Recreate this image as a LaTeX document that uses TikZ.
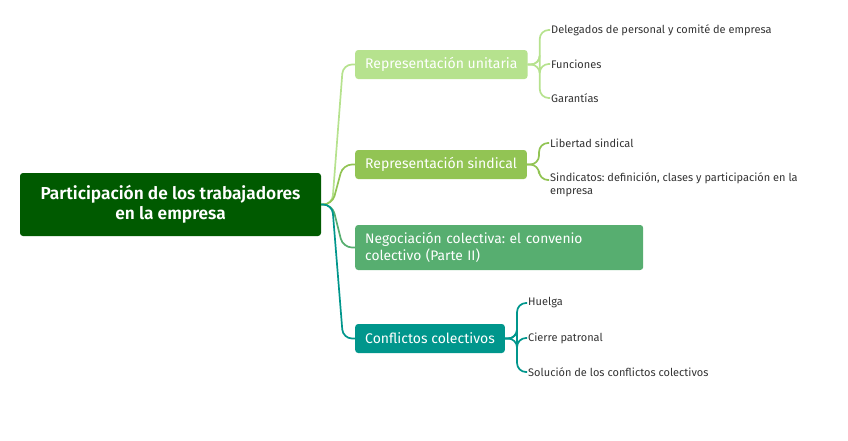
\documentclass[tikz,border=0pt]{standalone}
\usepackage{fontspec}
\usetikzlibrary{calc}
\setmainfont{Fira Sans}
\newfontfamily\rootfont{Fira Sans SemiBold}
\frenchspacing
\definecolor{rootg}{RGB}{0,90,0}
\definecolor{cA}{RGB}{182,226,142}
\definecolor{cB}{RGB}{146,196,84}
\definecolor{cC}{RGB}{87,174,112}
\definecolor{cD}{RGB}{0,150,140}
\definecolor{leaftxt}{RGB}{51,51,51}
\tikzset{
  rootbox/.style={fill=rootg, rounded corners=3pt, text=white, font=\rootfont\fontsize{17.3}{20}\selectfont, align=center, minimum width=301pt, minimum height=63pt, inner sep=0pt},
  branchbox/.style={rounded corners=3pt, text=white, font=\fontsize{14}{16}\selectfont, minimum height=29pt, inner xsep=10pt, inner ysep=0pt, anchor=west},
  leaf/.style={text=leaftxt, font=\fontsize{11}{13}\selectfont, anchor=west, inner sep=1pt, align=left},
  conn/.style={line width=1.7pt, rounded corners=9pt},
}
\begin{document}
\begin{tikzpicture}[x=1pt,y=-1pt]
\useasboundingbox (0,0) rectangle (848,440);
\node[rootbox] (root) at (170.5,204.5) {Participación de los trabajadores\\en la empresa};
\node[branchbox, fill=cA, minimum width=170pt] (b1) at (355,64.5) {Representación unitaria};
\node[branchbox, fill=cB, minimum width=169pt] (b2) at (355,164.5) {Representación sindical};
\node[branchbox, fill=cC, text width=268pt, align=left, minimum height=45pt, font=\fontsize{13.8}{16.5}\selectfont] (b3) at (355,247.5) {Negociación colectiva: el convenio\\colectivo (Parte II)};
\node[branchbox, fill=cD, minimum width=147pt] (b4) at (355,338.5) {Conflictos colectivos};
% leaves
\node[leaf] (l11) at (550,30) {Delegados de personal y comité de empresa};
\node[leaf] (l12) at (550,64) {Funciones};
\node[leaf] (l13) at (550,98) {Garantías};
\node[leaf, anchor=north west] (l22) at (549,171) {Sindicatos: definición, clases y participación en la\\empresa};
\coordinate (l22in) at ($(l22.north west)+(0,9)$);
\node[leaf] (l21) at (549,143) {Libertad sindical};
\node[leaf] (l41) at (527,303) {Huelga};
\node[leaf] (l42) at (527,338) {Cierre patronal};
\node[leaf] (l43) at (527,372) {Solución de los conflictos colectivos};
% root connectors
\draw[conn, cA] (root.east) -- ++(11,0) -- ([xshift=-12pt]b1.west) -- (b1.west);
\draw[conn, cB] (root.east) -- ++(11,0) -- ([xshift=-12pt]b2.west) -- (b2.west);
\draw[conn, cC] (root.east) -- ++(11,0) -- ([xshift=-12pt]b3.west) -- (b3.west);
\draw[conn, cD] (root.east) -- ++(11,0) -- ([xshift=-12pt]b4.west) -- (b4.west);
% leaf connectors
\foreach \l in {l11,l12,l13}{
  \draw[conn, cA] (b1.east) -- ++(12,0) coordinate (j) -- (j |- \l.west) -- (\l.west);
}
\draw[conn, cB] (b2.east) -- ++(12,0) coordinate (j) -- (j |- l21.west) -- (l21.west);
\draw[conn, cB] (b2.east) -- ++(12,0) coordinate (j) -- (j |- l22in) -- (l22in);
\foreach \l in {l41,l42,l43}{
  \draw[conn, cD] (b4.east) -- ++(12,0) coordinate (j) -- (j |- \l.west) -- (\l.west);
}
\end{tikzpicture}
\end{document}
